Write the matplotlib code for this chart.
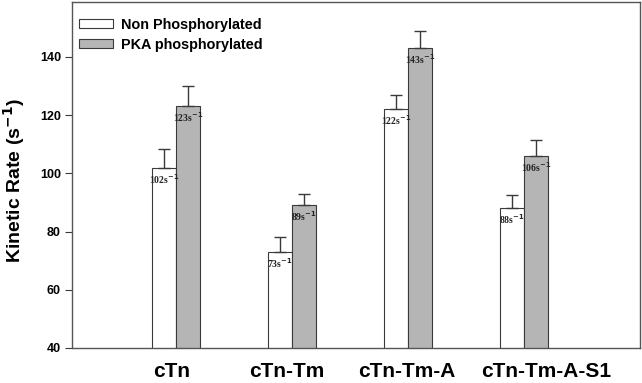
import matplotlib
matplotlib.use("Agg")
import matplotlib.pyplot as plt
import matplotlib.transforms as mtransforms
import numpy as np

categories = ["cTn", "cTn-Tm", "cTn-Tm-A", "cTn-Tm-A-S1"]
non_phos = [102, 73, 122, 88]
non_phos_err = [6.5, 5, 5, 4.7]
pka_phos = [123, 89, 143, 106]
pka_phos_err = [7, 4, 6, 5.6]
yticks = [40, 60, 80, 100, 120, 140]

plt.rcParams['font.family'] = ['Liberation Sans', 'DejaVu Sans']
plt.rcParams['mathtext.fontset'] = 'custom'

fig = plt.figure(figsize=(6.42, 3.83), dpi=100)
ax = fig.add_axes([72/642, 1-348/383, (640-72)/642, (348-2)/383])

x = np.arange(len(categories))
w = 0.21
edge = '#3a3a3a'
ax.bar(x - w/2, non_phos, w, color='white', edgecolor=edge, linewidth=0.8,
       label='Non Phosphorylated')
ax.bar(x + w/2, pka_phos, w, color='#b5b5b5', edgecolor=edge, linewidth=0.8,
       label='PKA phosphorylated')
ax.errorbar(x - w/2, non_phos, yerr=[np.zeros(4), non_phos_err], fmt='none',
            ecolor=edge, elinewidth=1, capsize=4, capthick=1)
ax.errorbar(x + w/2, pka_phos, yerr=[np.zeros(4), pka_phos_err], fmt='none',
            ecolor=edge, elinewidth=1, capsize=4, capthick=1)

for xs, vals in ((x - w/2, non_phos), (x + w/2, pka_phos)):
    for xi, v in zip(xs, vals):
        ax.annotate(f'{v}s' + r'$^{\mathbf{-1}}$', (xi, v), xytext=(0, -3), textcoords='offset points',
                    ha='center', va='top', fontsize=7, fontweight='bold',
                    family='Liberation Serif', color='#222222')

ax.set_ylim(40, 158.9)
ax.set_xlim(-0.897, 4.0)
ax.set_yticks(yticks)
ax.set_yticklabels([str(t) for t in yticks], fontsize=9, fontweight='bold')
ax.set_xticks(x)
ax.set_xticklabels(categories, fontsize=15, fontweight='bold')
ax.tick_params(axis='x', length=0, pad=10)
ax.tick_params(axis='y', length=5, width=0.8, color=edge, direction='out', pad=3)
label_shift_pt = [-3, -3.6, -0.7, 15.8]
for lbl, dx in zip(ax.get_xticklabels(), label_shift_pt):
    lbl.set_transform(lbl.get_transform() + mtransforms.ScaledTranslation(dx/72, 0, fig.dpi_scale_trans))
for s in ax.spines.values():
    s.set_color('#555555')
    s.set_linewidth(1.0)

fig.text(14/642, 1-181/383, r'Kinetic Rate (s$^{\mathbf{-1}}$)', rotation=90,
         ha='center', va='center', fontsize=14, fontweight='bold')

ax.legend(loc='upper left', bbox_to_anchor=(0.012, 0.955), frameon=False,
          prop={'weight': 'bold', 'size': 10.4}, handlelength=2.35, handleheight=0.65,
          labelspacing=0.42, handletextpad=0.6, borderaxespad=0, borderpad=0)

fig.savefig('out.png', dpi=100)
